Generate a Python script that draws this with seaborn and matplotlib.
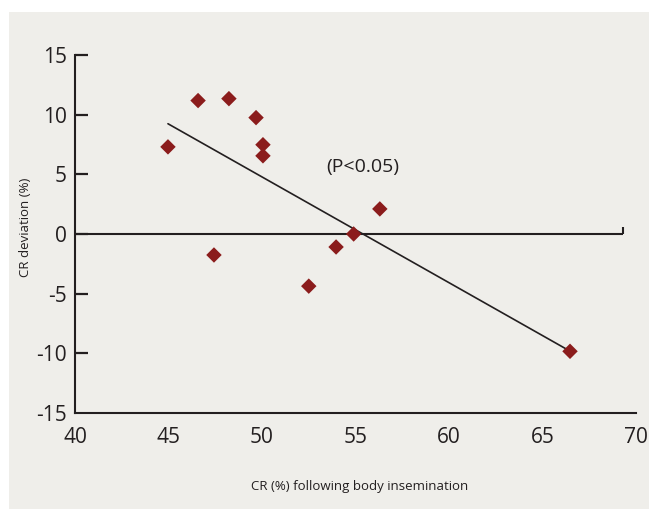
import numpy as np
import matplotlib
matplotlib.use('Agg')
import matplotlib.pyplot as plt
import pandas as pd
import seaborn as sns
from matplotlib.patches import Rectangle

# values
cr_body = [44.97, 46.58, 48.23, 49.68, 50.05, 50.05, 47.43, 52.5, 53.96, 54.9, 56.3, 66.47]
cr_dev = [7.3, 11.18, 11.34, 9.75, 7.48, 6.55, -1.76, -4.37, -1.09, 0.0, 2.1, -9.83]
x_ticks = [40, 45, 50, 55, 60, 65, 70]
y_ticks = [-15, -10, -5, 0, 5, 10, 15]

data = pd.DataFrame({'cr_body': cr_body, 'cr_dev': cr_dev})

sns.set_style('ticks')
plt.rcParams['font.family'] = ['Open Sans', 'DejaVu Sans']

bg = '#efeeea'
ink = '#231f20'
red = '#8b1c1c'

fig = plt.figure(figsize=(6.49, 5.09), dpi=100, facecolor='white')
fig.patches.append(Rectangle((9 / 649, 0), 640 / 649, 497 / 509, transform=fig.transFigure,
                             facecolor=bg, edgecolor='none', zorder=-5))
ax = fig.add_axes([0.1156, 0.1886, 0.8644, 0.7034])
ax.set_facecolor('none')

# regression line over the data range
sns.regplot(x='cr_body', y='cr_dev', data=data, scatter=False, ci=None, ax=ax,
            line_kws={'color': ink, 'linewidth': 1.2, 'zorder': 2})
# zero line with its little end tick
ax.hlines(0, 40, 69.3, color=ink, linewidth=1.5, zorder=1)
ax.vlines(69.3, 0, 0.6, color=ink, linewidth=1.5, zorder=1)

sns.scatterplot(x='cr_body', y='cr_dev', data=data, ax=ax, marker='D', s=62,
                color=red, edgecolor='none', zorder=3)

ax.text(55.4, 5.6, '(P<0.05)', fontsize=14, color=ink, ha='center', va='center')

ax.set_xlim(40, 70)
ax.set_ylim(-15, 15)
ax.set_xticks(x_ticks)
ax.set_yticks(y_ticks)
ax.set_xticklabels([str(t) for t in x_ticks])
ax.set_yticklabels([str(t) for t in y_ticks])
ax.tick_params(axis='x', length=0, pad=10, labelsize=15, labelcolor=ink)
ax.tick_params(axis='y', direction='in', length=9, width=1.6, pad=6, labelsize=15,
               labelcolor=ink, color=ink)
yt = ax.yaxis.get_major_ticks()
yt[0].tick1line.set_visible(False)

for side in ['top', 'right']:
    ax.spines[side].set_visible(False)
for side in ['left', 'bottom']:
    ax.spines[side].set_color(ink)
    ax.spines[side].set_linewidth(1.5)

ax.set_xlabel('CR (%) following body insemination', fontsize=9.5, color=ink)
ax.set_ylabel('CR deviation (%)', fontsize=9.5, color=ink)
ax.xaxis.set_label_coords((360 - 75) / 561, -(480 - 413) / 358)
ax.yaxis.set_label_coords(-(75 - 32) / 561, (413 - 227) / 358)

fig.savefig('out.png', dpi=100, facecolor='white')
